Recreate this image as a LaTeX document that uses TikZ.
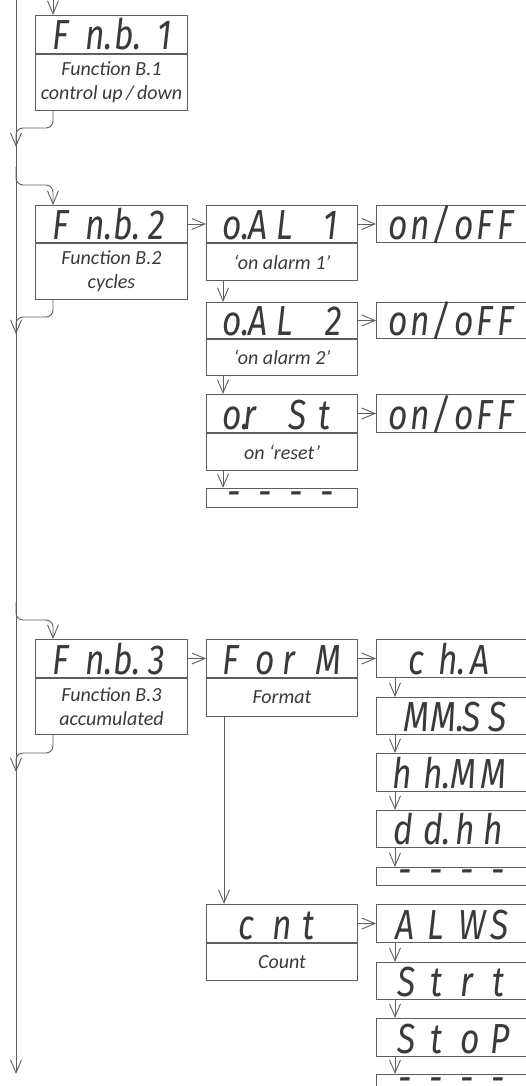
\documentclass[tikz,border=0pt]{standalone}
\usepackage{fontspec}
\setmainfont{Carlito}
\newfontfamily\segfont{Fira Sans}[FakeStretch=0.8]
\usetikzlibrary{arrows.meta,calc}
\definecolor{ln}{HTML}{5E5E5E}
\definecolor{tx}{HTML}{3A3A3A}
\newcommand\g[2]{\makebox[#1pt][l]{#2}}
\newcommand\dashrow{\g{31}{-}\g{31}{-}\g{31}{-}-}
\begin{document}
\begin{tikzpicture}[x=1pt,y=-1pt,
  box/.style={draw=ln, line width=1pt, anchor=north west, inner sep=0pt, minimum width=#1},
  lab/.style={draw=ln, line width=1pt, anchor=north west, inner sep=0pt, minimum width=#1,
    align=center, text=tx, font=\itshape\fontsize{20}{24}\selectfont},
  seg/.style={anchor=base west, inner sep=0pt, text=tx, font=\segfont\itshape\fontsize{42}{42}\selectfont},
  arr/.style={draw=ln, line width=0.9pt, -{Straight Barb[length=13pt,width=11pt]}},
  link/.style={arr, rounded corners=7pt}]
\useasboundingbox (0,0) rectangle (526,1086);
\clip (0,0) rectangle (526,1086);

% ---------- left column ----------
\node[box=152pt, minimum height=38pt] (b1) at (35,15) {};
\node[lab=152pt, minimum height=56pt] (b1l) at (b1.south west) {Function B.1\\control up\,/\,down};
\node[seg] (b1t) at ($(b1.south west)+(17,-4)$) {\g{33}{F}\g{29}{n.}\g{43}{b.}1};

\node[box=152pt, minimum height=37pt] (b2) at (35,205) {};
\node[lab=152pt, minimum height=56pt] (b2l) at (b2.south west) {Function B.2\\cycles};
\node[seg] (b2t) at ($(b2.south west)+(17,-4)$) {\g{33}{F}\g{28}{n.}\g{35}{b.}2};

\node[box=152pt, minimum height=38pt] (b3) at (35,639) {};
\node[lab=152pt, minimum height=56pt] (b3l) at (b3.south west) {Function B.3\\accumulated};
\node[seg] (b3t) at ($(b3.south west)+(17,-4)$) {\g{33}{F}\g{28}{n.}\g{35}{b.}3};

% ---------- middle column ----------
\node[box=151pt, minimum height=37pt] (a1) at (206,205) {};
\node[lab=151pt, minimum height=37pt] (a1l) at (a1.south west) {‘on alarm 1’};
\node[seg] (a1t) at ($(a1.south west)+(16,-4)$) {\g{26}{o.}\g{28}{A}\g{47}{L}1};

\node[box=151pt, minimum height=36pt] (a2) at (206,302) {};
\node[lab=151pt, minimum height=36pt] (a2l) at (a2.south west) {‘on alarm 2’};
\node[seg] (a2t) at ($(a2.south west)+(16,-4)$) {\g{26}{o.}\g{28}{A}\g{49}{L}2};

\node[box=151pt, minimum height=38pt] (a3) at (206,394) {};
\node[lab=151pt, minimum height=37pt] (a3l) at (a3.south west) {on ‘reset’};
\node[seg] (a3t) at ($(a3.south west)+(16,-4)$) {\g{21}{o.}\g{45}{r}\g{30}{S}t};

\node[box=151pt, minimum height=19pt] (ad) at (206,488) {};
\node[seg] (adt) at ($(ad.west)+(21,8)$) {\dashrow};

\node[box=151pt, minimum height=38pt] (f1) at (206,639) {};
\node[lab=151pt, minimum height=38pt] (f1l) at (f1.south west) {Format};
\node[seg] (f1t) at ($(f1.south west)+(16,-4)$) {\g{33}{F}\g{27}{o}\g{33}{r}M};

\node[box=151pt, minimum height=38pt] (c1) at (206,904) {};
\node[lab=151pt, minimum height=37pt] (c1l) at (c1.south west) {Count};
\node[seg] (c1t) at ($(c1.south west)+(32,-4)$) {\g{34}{c}\g{30}{n}t};

% ---------- right column ----------
\node[box=170pt, minimum height=37pt] (o1) at (376,205) {};
\node[seg] (o1t) at ($(o1.south west)+(12,-4)$) {\g{22}{o}\g{22}{n}\g{22}{/}\g{22}{o}\g{21}{F}F};
\node[box=170pt, minimum height=36pt] (o2) at (376,302) {};
\node[seg] (o2t) at ($(o2.south west)+(12,-4)$) {\g{22}{o}\g{22}{n}\g{22}{/}\g{22}{o}\g{21}{F}F};
\node[box=170pt, minimum height=38pt] (o3) at (376,394) {};
\node[seg] (o3t) at ($(o3.south west)+(12,-4)$) {\g{22}{o}\g{22}{n}\g{22}{/}\g{22}{o}\g{21}{F}F};

\node[box=170pt, minimum height=38pt] (r1) at (376,639) {};
\node[seg] (r1t) at ($(r1.south west)+(32,-4)$) {\g{30}{c}\g{32}{h.}A};
\node[box=170pt, minimum height=37pt] (r2) at (376,697) {};
\node[seg] (r2t) at ($(r2.south west)+(27,-4)$) {\g{27}{M}\g{32}{M.}\g{26}{S}S};
\node[box=170pt, minimum height=38pt] (r3) at (376,753) {};
\node[seg] (r3t) at ($(r3.south west)+(16,-4)$) {\g{31}{h}\g{27}{h.}\g{30}{M}M};
\node[box=170pt, minimum height=37pt] (r4) at (376,810) {};
\node[seg] (r4t) at ($(r4.south west)+(17,-4)$) {\g{30}{d}\g{32}{d.}\g{28}{h}h};
\node[box=170pt, minimum height=18pt] (r5) at (376,867) {};
\node[seg] (r5t) at ($(r5.west)+(22,8)$) {\dashrow};

\node[box=170pt, minimum height=38pt] (s1) at (376,904) {};
\node[seg] (s1t) at ($(s1.south west)+(19,-4)$) {\g{32}{A}\g{31}{L}\g{32}{W}S};
\node[box=170pt, minimum height=37pt] (s2) at (376,962) {};
\node[seg] (s2t) at ($(s2.south west)+(21,-4)$) {\g{33}{S}\g{30}{t}\g{32}{r}t};
\node[box=170pt, minimum height=38pt] (s3) at (376,1018) {};
\node[seg] (s3t) at ($(s3.south west)+(21,-4)$) {\g{33}{S}\g{30}{t}\g{30}{o}P};
\node[box=170pt, minimum height=19pt] (s4) at (376,1074) {};
\node[seg] (s4t) at ($(s4.west)+(22,8)$) {\dashrow};

% ---------- main flow ----------
\coordinate (top) at (16,0);
\coordinate (bot) at (16,1074);
\draw[arr] (top) -- (bot);
\coordinate (in1) at (53,0);
\draw[arr] (in1) -- (b1.north -| in1);

\coordinate (j1) at (16,147);
\coordinate (h1) at (16,128);
\draw[link] (b1l.south -| in1) |- (h1) -- (j1);

\coordinate (s2a) at (16,167);
\coordinate (h2) at (53,185);
\draw[link] (s2a) |- (h2) -- (b2.north -| in1);

\coordinate (j2) at (16,334);
\coordinate (h3) at (16,317);
\draw[link] (b2l.south -| in1) |- (h3) -- (j2);

\coordinate (s3a) at (16,602);
\coordinate (h4) at (53,620);
\draw[link] (s3a) |- (h4) -- (b3.north -| in1);

\coordinate (j3) at (16,772);
\coordinate (h5) at (16,753);
\draw[link] (b3l.south -| in1) |- (h5) -- (j3);

% ---------- horizontal arrows ----------
\draw[arr] (b2.east) -- (a1.west);
\draw[arr] (a1.east) -- (o1.west);
\draw[arr] (a2.east) -- (o2.west);
\draw[arr] (a3.east) -- (o3.west);
\draw[arr] (b3.east) -- (f1.west);
\draw[arr] (f1.east) -- (r1.west);
\draw[arr] (c1.east) -- (s1.west);

% ---------- vertical arrows ----------
\coordinate (mx) at (223,0);
\draw[arr] (a1l.south -| mx) -- (a2.north -| mx);
\draw[arr] (a2l.south -| mx) -- (a3.north -| mx);
\draw[arr] (a3l.south -| mx) -- (ad.north -| mx);
\coordinate (fx) at (224,0);
\draw[arr] (f1l.south -| fx) -- (c1.north -| fx);
\coordinate (rx) at (395,0);
\draw[arr] (r1.south -| rx) -- (r2.north -| rx);
\draw[arr] (r2.south -| rx) -- (r3.north -| rx);
\draw[arr] (r3.south -| rx) -- (r4.north -| rx);
\draw[arr] (r4.south -| rx) -- (r5.north -| rx);
\draw[arr] (s1.south -| rx) -- (s2.north -| rx);
\draw[arr] (s2.south -| rx) -- (s3.north -| rx);
\draw[arr] (s3.south -| rx) -- (s4.north -| rx);
\end{tikzpicture}
\end{document}
